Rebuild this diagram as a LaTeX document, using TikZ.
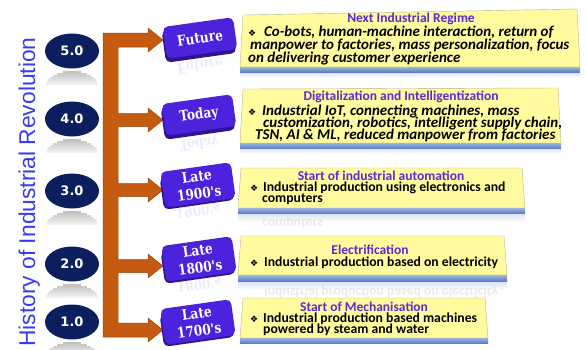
\documentclass[tikz,border=0pt]{standalone}
\usepackage{fontspec}
\setmainfont{Carlito}
\newfontfamily\keyfont[FakeStretch=0.84]{DejaVu Serif}
\newfontfamily\badgefont{DejaVu Sans}
\newfontfamily\titlefont{Liberation Sans}
\usetikzlibrary{shapes.geometric}

\definecolor{navy}{HTML}{0B1F5E}
\definecolor{rust}{HTML}{C55A11}
\definecolor{rustdark}{HTML}{9E470C}
\definecolor{keyface}{HTML}{4C22DC}
\definecolor{keyside}{HTML}{2E1590}
\definecolor{padfill}{HTML}{FFFB9E}
\definecolor{padline}{HTML}{B8B48A}
\definecolor{bandtop}{HTML}{9DB4E2}
\definecolor{bandbot}{HTML}{5E80C6}
\definecolor{headcol}{HTML}{5A2BD0}
\definecolor{histblue}{HTML}{3A3AF5}

\begin{document}
\begin{tikzpicture}[x=1pt,y=-1pt,
  badge/.style={ellipse, fill=navy, minimum width=54pt, minimum height=35pt, inner sep=0pt,
    text=white, font=\badgefont\bfseries\fontsize{13}{13}\selectfont},
  keyshadow/.style={rounded corners=5pt, fill=keyside, minimum width=71pt, minimum height=32pt, rotate=8},
  keytop/.style={rounded corners=5pt, fill=keyface, minimum width=71pt, minimum height=32pt, rotate=8,
    inner sep=1pt, text=white, align=center, font=\keyfont\bfseries\fontsize{14.5}{17.5}\selectfont},
  keyecho/.style={text=keyface, opacity=0.09, yscale=-1, rotate=-8, align=center,
    font=\keyfont\bfseries\fontsize{14.5}{17.5}\selectfont},
  pad/.style={fill=padfill, draw=padline, line width=0.4pt},
  band/.style={top color=bandtop, bottom color=bandbot},
  bandecho/.style={top color=bandtop!40, bottom color=white},
  head/.style={anchor=base, inner sep=0pt, text=headcol, font=\fontsize{13.5}{13.5}\selectfont\bfseries},
  body/.style={anchor=base west, inner sep=0pt, font=\fontsize{13.7}{13.7}\selectfont\bfseries},
  bodyit/.style={anchor=base west, inner sep=0pt, font=\fontsize{15}{15}\selectfont\bfseries\itshape},
  echo/.style={anchor=base west, inner sep=0pt, yscale=-1, opacity=0.08, font=\fontsize{13.7}{13.7}\selectfont\bfseries},
  bul/.style={anchor=base west, inner sep=0pt, font=\badgefont\fontsize{9}{9}\selectfont},
  bracket/.style={fill=rust, draw=rustdark, line width=0.5pt, line join=miter}
]
\useasboundingbox (0,0) rectangle (586,349);

% vertical heading
\node[rotate=90, anchor=base, inner sep=0pt, text=histblue,
      font=\titlefont\fontsize{22.8}{24}\selectfont] (hist) at (35,192) {History of Industrial Revolution};

% revolution badges, each above a fading grey reflection built from thin slices
\foreach \nm/\lab/\yy in {r5/5.0/51, r4/4.0/119, r3/3.0/191, r2/2.0/264, r1/1.0/322} {
  \foreach \k in {0,...,6} {
    \pgfmathsetmacro\hw{27*sqrt(1-((16-2*\k)/17)^2)}
    \pgfmathtruncatemacro\gv{24-3*\k}
    \fill[black!\gv] (72-\hw,\yy+20+2*\k) rectangle (72+\hw,\yy+22.2+2*\k);
  }
  \node[badge] (\nm) at (72,\yy) {\lab};
}

% orange spine with its five arrows
\fill[bracket] (103,33) -- (148,33) -- (148,28) -- (163,40) -- (148,52) -- (148,47) -- (118,47)
  \foreach \c in {120,190,266} {
    -- (118,\c-6.5) -- (148,\c-6.5) -- (148,\c-12) -- (163,\c) -- (148,\c+12) -- (148,\c+6.5) -- (118,\c+6.5)
  }
  -- (118,323) -- (148,323) -- (148,318) -- (163,330) -- (148,342) -- (148,337) -- (103,337) -- cycle;

% era keys
\node[keyecho] (futE) at (200,66) {Future};
\node[keyecho] (todE) at (199,143) {Today};
\node[keyecho] (l19E) at (198,211) {1900's};
\node[keyecho] (l18E) at (199,285) {1800's};

\node[keyshadow] (futS) at (199,42) {};
\node[keytop] (fut) at (200,38) {Future};
\node[keyshadow] (todS) at (198,119) {};
\node[keytop] (tod) at (199,115) {Today};
\node[keyshadow] (l19S) at (197,189) {};
\node[keytop, minimum height=36pt] (l19) at (198,185) {Late\\1900's};
\node[keyshadow] (l18S) at (198,263) {};
\node[keytop, minimum height=36pt] (l18) at (199,259) {Late\\1800's};
\node[keyshadow] (l17S) at (197,326) {};
\node[keytop, minimum height=36pt] (l17) at (198,322) {Late\\1700's};

% description pads
\fill[bandecho] (240,72) rectangle (580,78);
\draw[pad] (243,15) -- (577,9) -- (580,67) -- (240,67) -- cycle;
\shade[band] (240,67) rectangle (580,72);

\fill[bandecho] (240,148) rectangle (561,154);
\draw[pad] (243,89) -- (558,88) -- (561,143) -- (240,143) -- cycle;
\shade[band] (240,143) rectangle (561,148);

\fill[bandecho] (238,213) rectangle (525,222);
\draw[pad] (241,168) -- (522,168) -- (525,208) -- (238,208) -- cycle;
\shade[band] (238,208) rectangle (525,213);

\fill[bandecho] (238,281) rectangle (507,290);
\draw[pad] (241,236) -- (504,236) -- (507,275) -- (238,275) -- cycle;
\shade[band] (238,275) rectangle (507,281);

\draw[pad] (243,298) -- (485,298) -- (488,338) -- (240,338) -- cycle;
\shade[band] (240,338) rectangle (488,343);

% pad texts
\node[head] (h1) at (411,22) {Next Industrial Regime};
\node[bul] (d1) at (248,36) {❖};
\node[bodyit] (t1a) at (264,36) {Co-bots, human-machine interaction, return of};
\node[bodyit] (t1b) at (250,49.5) {manpower to factories, mass personalization, focus};
\node[bodyit] (t1c) at (248,62) {on delivering customer experience};

\node[head] (h2) at (401,100) {Digitalization and Intelligentization};
\node[bul] (d2) at (248,115) {❖};
\node[bodyit] (t2a) at (262,115) {Industrial IoT, connecting machines, mass};
\node[bodyit] (t2b) at (263,127) {customization, robotics, intelligent supply chain,};
\node[bodyit] (t2c) at (255,139) {TSN, AI \& ML, reduced manpower from factories};

\node[head] (h3) at (381,180) {Start of industrial automation};
\node[bul] (d3) at (250,191) {❖};
\node[body] (t3a) at (263,191) {Industrial production using electronics and};
\node[body] (t3b) at (262,202) {computers};
\node[echo] (t3e) at (262,219) {computers};

\node[head] (h4) at (370,254) {Electrification};
\node[bul] (d4) at (250,266) {❖};
\node[body] (t4a) at (264,266) {Industrial production based on electricity};
\node[echo] (t4e) at (264,288) {Industrial production based on electricity};

\node[head] (h5) at (364,311) {Start of Mechanisation};
\node[bul] (d5) at (250,322) {❖};
\node[body] (t5a) at (263,322) {Industrial production based machines};
\node[body] (t5b) at (263,333) {powered by steam and water};
\end{tikzpicture}
\end{document}
